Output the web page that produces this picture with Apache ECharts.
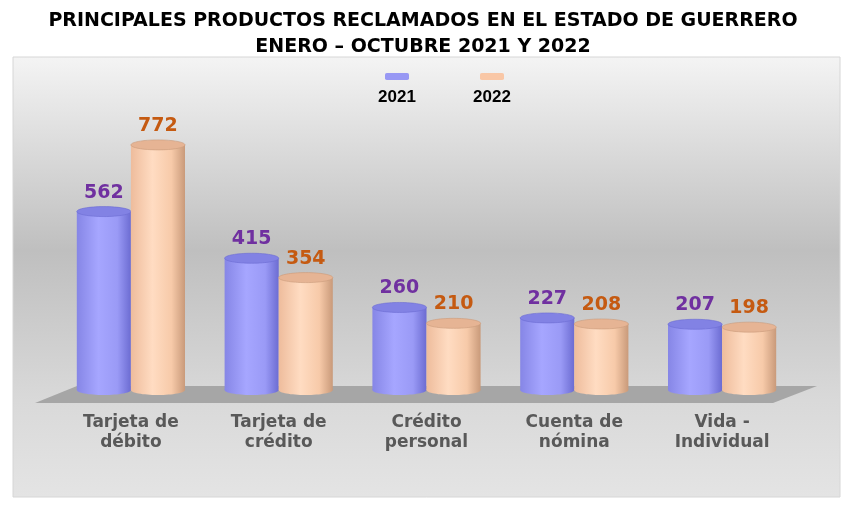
<!DOCTYPE html>
<html>
<head>
<meta charset="utf-8">
<script src="https://cdn.jsdelivr.net/npm/echarts@6/dist/echarts.min.js"></script>
<style>
  html, body { margin: 0; padding: 0; background: #ffffff; }
  #main { width: 846px; height: 516px; }
</style>
</head>
<body>
<div id="main"></div>
<script>
var categories = ['Tarjeta de\ndébito', 'Tarjeta de\ncrédito', 'Crédito\npersonal', 'Cuenta de\nnómina', 'Vida -\nIndividual'];
var years = ['2021', '2022'];
var values2021 = [562, 415, 260, 227, 207];
var values2022 = [772, 354, 210, 208, 198];

var gridLeft = 57, gridRight = 50, gridTop = 136, gridBottom = 126;
var font = '"DejaVu Sans", "Open Sans", sans-serif';

// colours per year: flat (legend), body gradient stops, top cap
var looks = [
    { flat: '#9898f4', stops: ['#8686e6', '#a6a6ff', '#9a9af6', '#6c6cd2'], cap: '#8282e4', label: '#7030a0' },
    { flat: '#f9c7a6', stops: ['#eebc9c', '#ffdcc2', '#f7caa9', '#c99a7a'], cap: '#e6b494', label: '#c55a11' }
];

function cylinder(k) {
    return function (params, api) {
        var idx = api.value(0);
        var top = api.coord([idx, api.value(1)]);
        var base = api.coord([idx, 0]);
        var w = api.size([1, 0])[0] * 0.366;
        var x = top[0] + (k === 0 ? -w : 0);
        var ry = 5;
        var l = looks[k];
        var grad = new echarts.graphic.LinearGradient(0, 0, 1, 0, [
            { offset: 0, color: l.stops[0] },
            { offset: 0.4, color: l.stops[1] },
            { offset: 0.75, color: l.stops[2] },
            { offset: 1, color: l.stops[3] }
        ]);
        return {
            type: 'group',
            children: [
                { type: 'ellipse', shape: { cx: x + w / 2, cy: base[1], rx: w / 2, ry: ry }, style: { fill: grad } },
                { type: 'rect', shape: { x: x, y: top[1], width: w, height: base[1] - top[1] }, style: { fill: grad } },
                { type: 'ellipse', shape: { cx: x + w / 2, cy: top[1], rx: w / 2, ry: ry },
                  style: { fill: l.cap, stroke: l.stops[3], lineWidth: 0.6 } },
                { type: 'text', x: x + w / 2, y: top[1] - 19,
                  style: { text: String(api.value(1)), fill: l.label, font: 'bold 19px ' + font,
                           align: 'center', verticalAlign: 'middle' } }
            ]
        };
    };
}

function rows(vals) {
    return vals.map(function (v, i) { return [i, v]; });
}

var chart = echarts.init(document.getElementById('main'));

var option = {
    animation: false,
    title: {
        text: 'PRINCIPALES PRODUCTOS RECLAMADOS EN EL ESTADO DE GUERRERO\nENERO – OCTUBRE 2021 Y 2022',
        left: 'center',
        top: 3,
        textStyle: { fontFamily: font, fontWeight: 'bold', fontSize: 19, color: '#000000', lineHeight: 26 }
    },
    legend: {
        data: years,
        left: 380,
        top: 68,
        itemWidth: 24,
        itemHeight: 7,
        itemGap: 71,
        formatter: function () { return ''; },
        selectedMode: false
    },
    grid: { left: gridLeft, right: gridRight, top: gridTop, bottom: gridBottom },
    xAxis: {
        type: 'category',
        data: categories,
        axisLine: { show: false },
        axisTick: { show: false },
        axisLabel: { margin: 23, fontFamily: font, fontWeight: 'bold', fontSize: 17, lineHeight: 20, color: '#595959' }
    },
    yAxis: {
        type: 'value',
        min: 0,
        max: 800,
        show: false
    },
    series: [
        { name: years[0], type: 'custom', renderItem: cylinder(0), itemStyle: { color: looks[0].flat },
          encode: { x: 0, y: 1 }, data: rows(values2021), z: 3 },
        { name: years[1], type: 'custom', renderItem: cylinder(1), itemStyle: { color: looks[1].flat },
          encode: { x: 0, y: 1 }, data: rows(values2022), z: 4 }
    ]
};
chart.setOption(option);

// panel, floor and legend captions
var baseY = chart.convertToPixel({ yAxisIndex: 0 }, 0);
var gx0 = gridLeft, gx1 = 846 - gridRight;
chart.setOption({
    graphic: [
        { type: 'rect', z: -10, shape: { x: 13, y: 57, width: 827, height: 440 },
          style: {
              stroke: '#d6d6d6', lineWidth: 1,
              fill: new echarts.graphic.LinearGradient(0, 0, 0, 1, [
                  { offset: 0, color: '#f4f4f4' },
                  { offset: 0.44, color: '#bfbfbf' },
                  { offset: 0.78, color: '#d9d9d9' },
                  { offset: 1, color: '#e4e4e4' }
              ])
          } },
        { type: 'polygon', z: -5,
          shape: { points: [[gx0 + 20, baseY - 4], [gx1 + 21, baseY - 4], [gx1 - 23, baseY + 13], [gx0 - 22, baseY + 13]] },
          style: { fill: '#a6a6a6' } },
        { type: 'text', x: 397, y: 97, style: { text: years[0], font: 'bold 17px "Liberation Sans", Arial, sans-serif',
          fill: '#000000', align: 'center', verticalAlign: 'middle' } },
        { type: 'text', x: 492, y: 97, style: { text: years[1], font: 'bold 17px "Liberation Sans", Arial, sans-serif',
          fill: '#000000', align: 'center', verticalAlign: 'middle' } }
    ]
});
</script>
</body>
</html>
